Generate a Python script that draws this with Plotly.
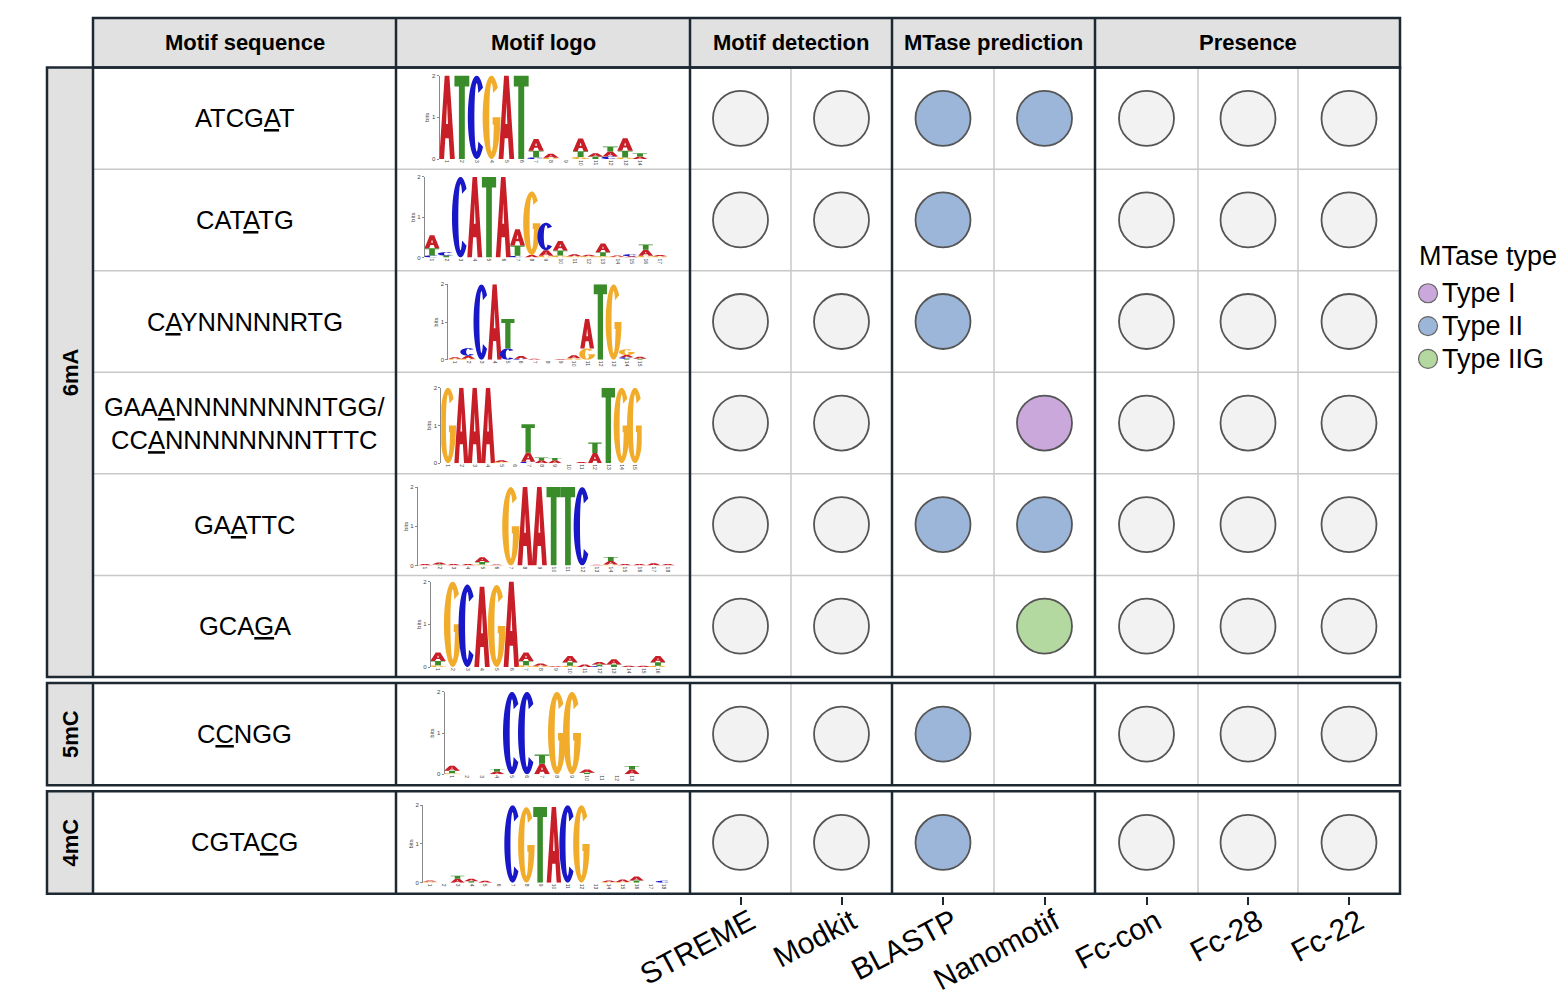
import numpy as np
import plotly.graph_objects as go

FONT = "Liberation Sans, Arial, sans-serif"

# ---------------- data ----------------
headers = ["Motif sequence", "Motif logo", "Motif detection", "MTase prediction", "Presence"]
groups = ["6mA", "5mC", "4mC"]
group_rows = [6, 1, 1]

motif_lines = [["ATCGAT"], ["CATATG"], ["CAYNNNNNRTG"],
               ["GAAANNNNNNNNTGG/", "CCANNNNNNNNTTTC"],
               ["GAATTC"], ["GCAGA"], ["CCNGG"], ["CGTACG"]]
mod_sites = [[4], [3], [1], [3, 2], [2], [3], [1], [4]]

tools = ["STREME", "Modkit", "BLASTP", "Nanomotif", "Fc-con", "Fc-28", "Fc-22"]
streme = [1, 1, 1, 1, 1, 1, 1, 1]
modkit = [1, 1, 1, 1, 1, 1, 1, 1]
blastp = ["Type II", "Type II", "Type II", "", "Type II", "", "Type II", "Type II"]
nanomotif = ["Type II", "", "", "Type I", "Type II", "Type IIG", "", ""]
fc_con = [1, 1, 1, 1, 1, 1, 1, 1]
fc_28 = [1, 1, 1, 1, 1, 1, 1, 1]
fc_22 = [1, 1, 1, 1, 1, 1, 1, 1]

legend_title = "MTase type"
mtase_types = ["Type I", "Type II", "Type IIG"]
mtase_colors = ["#cba8dc", "#9cb6d9", "#b3d8a0"]

# sequence logos: per position, letters bottom -> top with height in bits
logo_atcgat = [
    [("A", 2.0)], [("T", 2.0)], [("C", 2.0)], [("G", 2.0)], [("A", 2.0)], [("T", 2.0)],
    [("C", 0.04), ("T", 0.16), ("A", 0.28)],
    [("G", 0.03), ("A", 0.10)],
    [],
    [("G", 0.05), ("T", 0.14), ("A", 0.30)],
    [("T", 0.06), ("A", 0.08)],
    [("C", 0.06), ("A", 0.12), ("T", 0.12)],
    [("G", 0.04), ("T", 0.16), ("A", 0.30)],
    [("A", 0.06), ("T", 0.08)],
]
logo_catatg = [
    [("C", 0.05), ("T", 0.18), ("A", 0.32)],
    [("T", 0.05), ("C", 0.08)],
    [("C", 2.0)], [("A", 2.0)], [("T", 2.0)], [("A", 2.0)],
    [("C", 0.04), ("T", 0.26), ("A", 0.40)],
    [("A", 0.06), ("G", 1.58)],
    [("G", 0.04), ("A", 0.14), ("C", 0.68)],
    [("G", 0.05), ("T", 0.12), ("A", 0.24)],
    [("G", 0.03), ("A", 0.05)],
    [("G", 0.03), ("A", 0.04)],
    [("G", 0.03), ("T", 0.10), ("A", 0.22)],
    [("G", 0.02), ("A", 0.03)],
    [("A", 0.03), ("C", 0.05)],
    [("G", 0.04), ("A", 0.15), ("T", 0.13)],
    [("G", 0.03), ("A", 0.03)],
]
logo_caynnnnnrtg = [
    [("G", 0.03), ("A", 0.04)],
    [("G", 0.03), ("A", 0.08), ("C", 0.20)],
    [("C", 2.0)], [("A", 2.0)],
    [("C", 0.30), ("T", 0.78)],
    [("C", 0.03), ("A", 0.07)],
    [("A", 0.03)],
    [],
    [("A", 0.02)],
    [("G", 0.04), ("A", 0.08)],
    [("G", 0.30), ("A", 0.78)],
    [("T", 2.0)], [("G", 2.0)],
    [("T", 0.03), ("C", 0.04), ("A", 0.06), ("G", 0.15)],
    [("T", 0.03), ("A", 0.05)],
]
logo_gaaa = [
    [("G", 2.0)], [("A", 2.0)], [("A", 2.0)], [("A", 2.0)],
    [("G", 0.03), ("A", 0.05)],
    [],
    [("C", 0.04), ("A", 0.24), ("T", 0.75)],
    [("A", 0.08), ("T", 0.07)],
    [("A", 0.08), ("T", 0.06)],
    [],
    [("A", 0.03)],
    [("A", 0.27), ("T", 0.28)],
    [("T", 2.0)], [("G", 2.0)], [("G", 2.0)],
]
logo_gaattc = [
    [("A", 0.04)],
    [("T", 0.03), ("A", 0.05)],
    [("A", 0.04)],
    [("A", 0.04)],
    [("G", 0.03), ("T", 0.06), ("A", 0.12)],
    [("A", 0.03)],
    [("G", 2.0)], [("A", 2.0)], [("A", 2.0)], [("T", 2.0)], [("T", 2.0)], [("C", 2.0)],
    [("A", 0.02)],
    [("G", 0.03), ("A", 0.09), ("T", 0.10)],
    [("A", 0.04)],
    [("A", 0.04)],
    [("A", 0.06)],
    [("A", 0.04)],
]
logo_gcaga = [
    [("G", 0.04), ("T", 0.10), ("A", 0.20)],
    [("G", 2.0)], [("C", 1.93)], [("A", 1.88)], [("G", 1.92)], [("A", 2.0)],
    [("G", 0.04), ("T", 0.10), ("A", 0.20)],
    [("G", 0.03), ("A", 0.05)],
    [("A", 0.02)],
    [("G", 0.03), ("T", 0.08), ("A", 0.15)],
    [("A", 0.06)],
    [("C", 0.02), ("T", 0.04), ("A", 0.06)],
    [("T", 0.06), ("A", 0.12)],
    [("A", 0.03)],
    [("A", 0.03)],
    [("G", 0.03), ("T", 0.08), ("A", 0.15)],
]
logo_ccngg = [
    [("G", 0.03), ("T", 0.06), ("A", 0.12)],
    [], [],
    [("A", 0.07), ("T", 0.06)],
    [("C", 2.0)], [("C", 2.0)],
    [("A", 0.26), ("T", 0.22)],
    [("G", 2.0)], [("G", 2.0)],
    [("T", 0.04), ("A", 0.08)],
    [("A", 0.01)],
    [],
    [("A", 0.12), ("T", 0.08)],
]
logo_cgtacg = [
    [("G", 0.03), ("A", 0.03)],
    [],
    [("A", 0.10), ("T", 0.08)],
    [("T", 0.04), ("A", 0.06)],
    [("A", 0.05)],
    [],
    [("C", 2.0)], [("G", 1.95)], [("T", 1.95)], [("A", 1.95)], [("C", 2.0)], [("G", 2.0)],
    [],
    [("G", 0.02), ("A", 0.04)],
    [("G", 0.02), ("A", 0.06)],
    [("T", 0.06), ("A", 0.10)],
    [],
    [("C", 0.05)],
]
logos = [logo_atcgat, logo_catatg, logo_caynnnnnrtg, logo_gaaa,
         logo_gaattc, logo_gcaga, logo_ccngg, logo_cgtacg]

letter_colors = {"A": "#c81e28", "C": "#1818c8", "G": "#f2ac2c", "T": "#3a8c2a"}
letter_widths = {"A": 1.05, "C": 1.2, "G": 1.2, "T": 1.0}

# ---------------- layout constants (pixels) ----------------
W, H = 1562, 1004
DARK = "#1e2833"
LIGHT = "#c8c8c8"
HEAD_FILL = "#e1e1e1"
col_edges = [93, 396, 690, 892, 1095, 1400]
tool_edges = [690, 791, 892, 994, 1095, 1198, 1298, 1400]
block_edges = [(65, 678), (684, 787), (793, 896)]
header_y = (15, 65)
left_x = 47
Y_BOTTOM = 898
# logo plot boxes: x0, x1, y0(top), y1(bottom)
logo_boxes = [(439.6, 647.4, 73, 157), (424.9, 667.1, 175, 256),
              (448.4, 646.6, 283, 359), (441.3, 641.7, 387, 463),
              (417.9, 675.1, 487, 566), (430.7, 665.3, 582, 668),
              (444.5, 639.5, 693, 776), (423.1, 670.9, 807, 885)]
legend_x, legend_title_y, legend_y0, legend_dy = 1428, 255, 292, 33

# row centres
row_bounds = []
for (top, bot), n in zip(block_edges, group_rows):
    hgt = (bot - top) / n
    for r in range(n):
        row_bounds.append((top + r * hgt, top + (r + 1) * hgt))
row_cy = [(a + b) / 2 for a, b in row_bounds]
tool_cx = [(tool_edges[i] + tool_edges[i + 1]) / 2 for i in range(len(tools))]


# ---------------- letter glyphs (unit box, bold logo style) ----------------
def glyph(letter):
    if letter == "A":
        return [[(0, 0), (0.35, 1), (0.65, 1), (1, 0), (0.69, 0), (0.61, 0.25), (0.39, 0.25), (0.31, 0)],
                [(0.44, 0.42), (0.56, 0.42), (0.5, 0.68)]]
    if letter == "T":
        return [[(0, 1), (1, 1), (1, 0.87), (0.7, 0.87), (0.7, 0), (0.3, 0), (0.3, 0.87), (0, 0.87)]]
    if letter == "C":
        a = np.radians(np.linspace(45, 315, 40))
        outer = [(0.5 + 0.5 * np.cos(t), 0.5 + 0.5 * np.sin(t)) for t in a]
        inner = [(0.5 + 0.13 * np.cos(t), 0.5 + 0.41 * np.sin(t)) for t in a[::-1]]
        return [outer + inner]
    # G
    a = np.radians(np.linspace(45, 352, 40))
    outer = [(0.5 + 0.5 * np.cos(t), 0.5 + 0.5 * np.sin(t)) for t in a]
    bar = [(1.0, 0.50), (0.56, 0.50), (0.56, 0.41), (0.63, 0.41)]
    b = np.radians(np.linspace(330, 45, 36))
    inner = [(0.5 + 0.13 * np.cos(t), 0.5 + 0.41 * np.sin(t)) for t in b]
    return [outer + bar + inner]


def letter_path(letter, pos, base, h):
    w = letter_widths[letter]
    parts = []
    for poly in glyph(letter):
        pts = ["%.3f,%.4f" % (pos - w / 2 + u * w, base + v * h) for u, v in poly]
        parts.append("M" + "L".join(pts) + "Z")
    return "".join(parts)


fig = go.Figure()
shapes = []
annotations = []

# ---------------- table frame ----------------
shapes.append(dict(type="rect", x0=col_edges[0], x1=col_edges[-1], y0=header_y[0], y1=header_y[1],
                   fillcolor=HEAD_FILL, line=dict(width=0), layer="below"))
for top, bot in block_edges:
    shapes.append(dict(type="rect", x0=left_x, x1=col_edges[0], y0=top, y1=bot,
                       fillcolor=HEAD_FILL, line=dict(width=0), layer="below"))
# light separators
for i in range(len(row_bounds) - 1):
    b = row_bounds[i][1]
    if abs(row_bounds[i + 1][0] - b) < 1:
        shapes.append(dict(type="line", x0=col_edges[0], x1=col_edges[-1], y0=b, y1=b,
                           line=dict(color=LIGHT, width=1.5)))
for top, bot in block_edges:
    for xe in [tool_edges[1], tool_edges[3], tool_edges[5], tool_edges[6]]:
        shapes.append(dict(type="line", x0=xe, x1=xe, y0=top, y1=bot, line=dict(color=LIGHT, width=1.5)))
# dark borders
shapes.append(dict(type="rect", x0=col_edges[0], x1=col_edges[-1], y0=header_y[0], y1=header_y[1],
                   line=dict(color=DARK, width=2.5)))
for xe in col_edges[1:-1]:
    shapes.append(dict(type="line", x0=xe, x1=xe, y0=header_y[0], y1=header_y[1], line=dict(color=DARK, width=2.5)))
for top, bot in block_edges:
    shapes.append(dict(type="rect", x0=left_x, x1=col_edges[-1], y0=top, y1=bot, line=dict(color=DARK, width=2.5)))
    for xe in col_edges[:-1]:
        shapes.append(dict(type="line", x0=xe, x1=xe, y0=top, y1=bot, line=dict(color=DARK, width=2.5)))

# ---------------- texts ----------------
for i, h in enumerate(headers):
    annotations.append(dict(x=(col_edges[i] + col_edges[i + 1]) / 2, y=sum(header_y) / 2, text="<b>%s</b>" % h,
                            showarrow=False, font=dict(size=22, color="black", family=FONT)))
for g, (top, bot) in zip(groups, block_edges):
    annotations.append(dict(x=(left_x + col_edges[0]) / 2, y=(top + bot) / 2, text="<b>%s</b>" % g,
                            textangle=-90, showarrow=False, font=dict(size=22, color="black", family=FONT)))
for lines, sites, cy in zip(motif_lines, mod_sites, row_cy):
    txt = []
    for seq, s in zip(lines, sites):
        txt.append(seq[:s] + "<u>" + seq[s] + "</u>" + seq[s + 1:])
    annotations.append(dict(x=(col_edges[0] + col_edges[1]) / 2, y=cy, text="<br>".join(txt), align="center",
                            showarrow=False, font=dict(size=25.5, color="black", family=FONT)))

# ---------------- circles ----------------
tool_values = [streme, modkit, blastp, nanomotif, fc_con, fc_28, fc_22]
px_, py_ = [], []
type_pts = {t: ([], []) for t in mtase_types}
for j, vals in enumerate(tool_values):
    for i, v in enumerate(vals):
        if v == 1:
            px_.append(tool_cx[j]); py_.append(row_cy[i])
        elif v in type_pts:
            type_pts[v][0].append(tool_cx[j]); type_pts[v][1].append(row_cy[i])

fig.add_trace(go.Scatter(x=px_, y=py_, mode="markers", showlegend=False, hoverinfo="skip",
                         marker=dict(size=55, color="#f2f2f2", line=dict(color="#555555", width=1.8))))
for t, c in zip(mtase_types, mtase_colors):
    fig.add_trace(go.Scatter(x=type_pts[t][0], y=type_pts[t][1], mode="markers", name=t, showlegend=False,
                             marker=dict(size=55, color=c, line=dict(color="#555555", width=1.8))))

# legend (drawn on the page axes)
leg_y = [legend_y0 + i * legend_dy for i in range(len(mtase_types))]
fig.add_trace(go.Scatter(x=[legend_x] * len(mtase_types), y=leg_y, mode="markers", showlegend=False,
                         hoverinfo="skip",
                         marker=dict(size=19, color=mtase_colors, line=dict(color="#666666", width=1.2))))
annotations.append(dict(x=legend_x - 11, y=legend_title_y, text=legend_title, xanchor="left", showarrow=False,
                        font=dict(size=27, color="black", family=FONT)))
for t, yy in zip(mtase_types, leg_y):
    annotations.append(dict(x=legend_x + 12, y=yy, text=t, xanchor="left", showarrow=False,
                            font=dict(size=27, color="black", family=FONT)))

# ---------------- sequence logos ----------------
axes = {}
for k, (logo, box) in enumerate(zip(logos, logo_boxes), start=2):
    x0, x1, y0, y1 = box
    n = len(logo)
    axes["xaxis%d" % k] = dict(domain=[x0 / W, x1 / W], range=[0.5, n + 0.5], anchor="y%d" % k,
                               showgrid=False, zeroline=False, showline=False, ticks="",
                               tickvals=list(range(1, n + 1)), ticktext=[str(p) for p in range(1, n + 1)],
                               tickangle=90, tickfont=dict(size=5, color="#444", family=FONT))
    axes["yaxis%d" % k] = dict(domain=[1 - y1 / H, 1 - y0 / H], range=[0, 2], anchor="x%d" % k,
                               showgrid=False, zeroline=False, showline=True, linecolor="#888", linewidth=1,
                               ticks="outside", ticklen=2, tickcolor="#888", tickvals=[0, 1, 2],
                               tickfont=dict(size=6, color="#444", family=FONT),
                               title=dict(text="bits", font=dict(size=6, color="#444", family=FONT), standoff=1))
    fig.add_trace(go.Scatter(x=[None], y=[None], xaxis="x%d" % k, yaxis="y%d" % k,
                             showlegend=False, hoverinfo="skip"))
    for p, stack in enumerate(logo, start=1):
        base = 0.0
        for letter, h in stack:
            shapes.append(dict(type="path", xref="x%d" % k, yref="y%d" % k,
                               path=letter_path(letter, p, base, h),
                               fillcolor=letter_colors[letter], line=dict(width=0)))
            base += h

fig.update_layout(
    width=W, height=H,
    margin=dict(l=0, r=0, t=0, b=0),
    paper_bgcolor="white", plot_bgcolor="rgba(0,0,0,0)",
    font=dict(family=FONT, color="black"),
    showlegend=False,
    xaxis=dict(domain=[0, 1], range=[0, W], showgrid=False, zeroline=False, showline=False,
               tickvals=tool_cx, ticktext=tools, tickangle=-28, ticks="outside", ticklen=8,
               tickwidth=2, tickcolor=DARK, ticklabelshift=10, ticklabelstandoff=-12,
               tickfont=dict(size=30, color="black", family=FONT)),
    yaxis=dict(domain=[(H - Y_BOTTOM) / H, 1], range=[Y_BOTTOM, 0], showgrid=False, zeroline=False,
               showline=False, showticklabels=False),
    shapes=shapes,
    annotations=annotations,
    **axes,
)

# page has a default 8px body margin; drop it so the figure sits at the window origin
fig.write_html("out.html", config={"displayModeBar": False},
               post_script="document.body.style.margin='0px';")
